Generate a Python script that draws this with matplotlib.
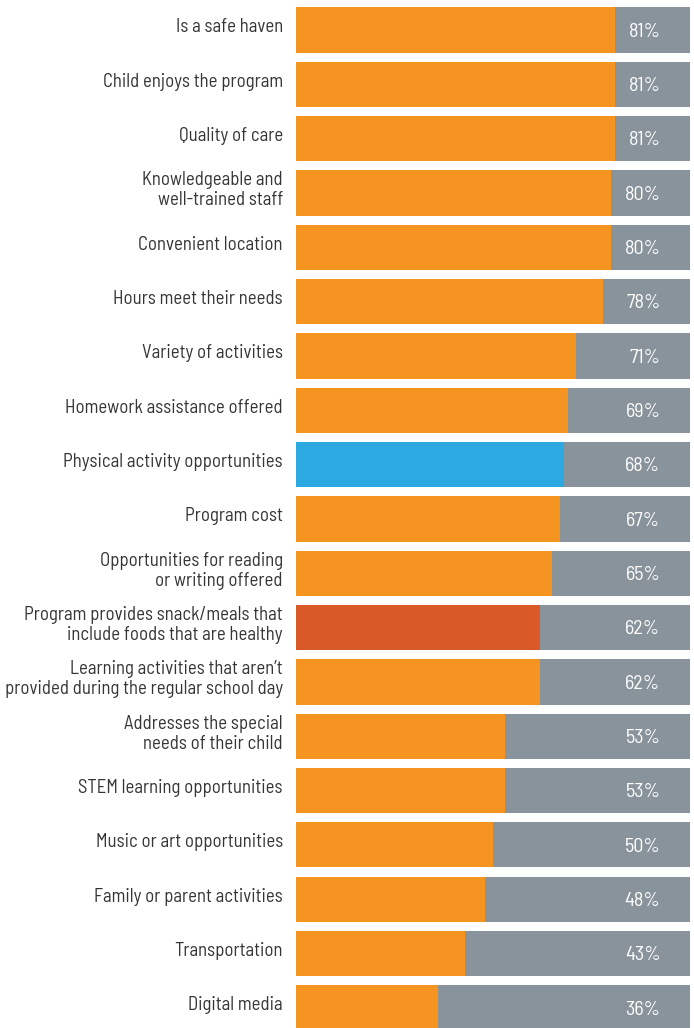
import matplotlib.pyplot as plt

labels = [
    'Is a safe haven',
    'Child enjoys the program',
    'Quality of care',
    'Knowledgeable and\nwell-trained staff',
    'Convenient location',
    'Hours meet their needs',
    'Variety of activities',
    'Homework assistance offered',
    'Physical activity opportunities',
    'Program cost',
    'Opportunities for reading\nor writing offered',
    'Program provides snack/meals that\ninclude foods that are healthy',
    "Learning activities that aren\u2019t\nprovided during the regular school day",
    'Addresses the special\nneeds of their child',
    'STEM learning opportunities',
    'Music or art opportunities',
    'Family or parent activities',
    'Transportation',
    'Digital media',
]
values = [81, 81, 81, 80, 80, 78, 71, 69, 68, 67, 65, 62, 62, 53, 53, 50, 48, 43, 36]
highlight = {8: '#2DA9E1', 11: '#DA5A27'}

ORANGE = '#F69422'
GREY = '#89939B'
TEXT = '#353535'
FAM = ['Barlow Semi Condensed', 'DejaVu Sans']

W, H = 694, 1028
fig = plt.figure(figsize=(W / 100, H / 100), dpi=100)
x0, x1 = 296, 690
ax = fig.add_axes([x0 / W, 0, (x1 - x0) / W, 1])

# row geometry in pixels
first, step = 30, 54.33
ax.set_ylim((H - first) / step, -first / step)
ax.set_xlim(0, 100)
ax.axis('off')

n = len(values)
ypos = list(range(n))
cols = [highlight.get(i, ORANGE) for i in range(n)]
ax.barh(ypos, [100] * n, height=0.83, color=GREY, linewidth=0)
ax.barh(ypos, values, height=0.83, color=cols, linewidth=0)

for i, (lab, v) in enumerate(zip(labels, values)):
    ax.text(92.5, i + 0.03, f'{v}%', ha='right', va='center', color='white',
            fontsize=14.5, family=FAM)
    ax.text(-3.3, i - 0.05, lab, ha='right', va='center', color=TEXT,
            fontsize=13.5, family=FAM, linespacing=1.15)

fig.savefig('out.png', dpi=100, facecolor='white')
